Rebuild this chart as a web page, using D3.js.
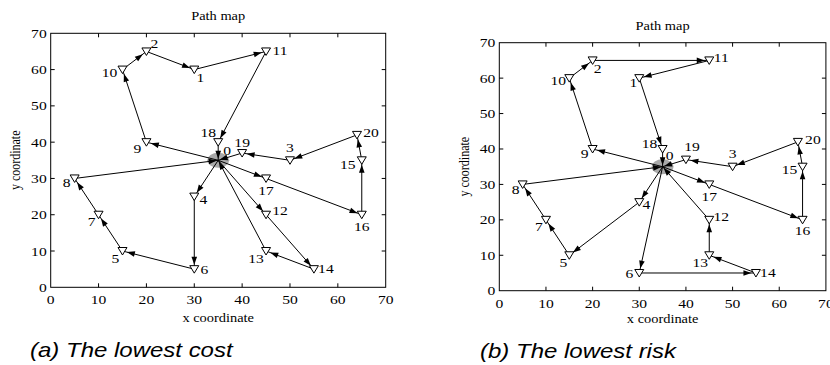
<!DOCTYPE html>
<html>
<head>
<meta charset="utf-8">
<script src="https://cdn.jsdelivr.net/npm/d3@7/dist/d3.min.js"></script>
<style>
  body { margin: 0; background: #fff; }
  svg { display: block; }
</style>
</head>
<body>
<svg id="chart" width="830" height="365"></svg>
<script>
// customer nodes (0 = depot)
const nodeIds = [0, 1, 2, 3, 4, 5, 6, 7, 8, 9, 10, 11, 12, 13, 14, 15, 16, 17, 18, 19, 20];
const nodeX = [35, 30, 20, 50, 30, 15, 30, 10, 5, 20, 15, 45, 45, 45, 55, 65, 65, 45, 35, 40, 64];
const nodeY = [35, 60, 65, 35, 25, 10, 5, 20, 30, 40, 60, 65, 20, 10, 5, 35, 20, 30, 40, 37, 42];

// vehicle routes
const routesCost = [
  [0, 9, 10, 2, 1, 11, 18, 0],
  [0, 4, 6, 5, 7, 8, 0],
  [0, 17, 16, 15, 20, 3, 19, 0],
  [0, 12, 14, 13, 0]
];
const routesRisk = [
  [0, 9, 10, 2, 11, 1, 18, 0],
  [0, 4, 5, 7, 8, 0],
  [0, 6, 14, 13, 12, 0],
  [0, 17, 16, 15, 20, 3, 19, 0]
];

const xTicks = [0, 10, 20, 30, 40, 50, 60, 70];
const yTicks = [0, 10, 20, 30, 40, 50, 60, 70];
const titleText = 'Path map';
const xLabelText = 'x coordinate';
const yLabelText = 'y coordinate';
const captions = ['(a) The lowest cost', '(b) The lowest risk'];

// label placement around each node (px), per panel
const labelOffA = {
  0: [9, -10], 1: [6, 8], 2: [8, -8], 3: [0, -13], 4: [9, 3], 5: [-7, 7], 6: [10, 0],
  7: [-7, 7], 8: [-8, 4], 9: [-9, 6], 10: [-13, 3], 11: [14, -1], 12: [14, -4],
  13: [-10, 7], 14: [12, -1], 15: [-14, 4], 16: [0, 12], 17: [0, 12], 18: [-10, -10],
  19: [0, -11], 20: [14, -2]
};
const labelOffB = {
  0: [7, -11], 1: [-6, 4], 2: [5, 8], 3: [0, -13], 4: [7, 2], 5: [-6, 7], 6: [-10, 1],
  7: [-7, 7], 8: [-7, 5], 9: [-8, 5], 10: [-11, 2], 11: [12, -3], 12: [12, -3],
  13: [-9, 7], 14: [12, 0], 15: [-13, 3], 16: [0, 11], 17: [0, 12], 18: [-13, -5],
  19: [6, -13], 20: [15, -2]
};

const SX = 1.2; // the figure is stretched horizontally
const serif = '"Liberation Serif", "Times New Roman", serif';

const svg = d3.select('#chart');

function txt(g, x, y, s, size, anchor, extra) {
  return g.append('text')
    .attr('transform', `translate(${x},${y}) scale(${SX},1)` + (extra || ''))
    .attr('text-anchor', anchor)
    .style('font-family', serif)
    .style('font-size', size + 'px')
    .style('fill', '#000')
    .text(s);
}

function drawPanel(p) {
  const x = d3.scaleLinear().domain([0, 70]).range([p.left, p.right]);
  const y = d3.scaleLinear().domain([0, 70]).range([p.bottom, p.top]);
  const g = svg.append('g');

  // frame
  g.append('rect')
    .attr('x', x(0)).attr('y', y(70))
    .attr('width', x(70) - x(0)).attr('height', y(0) - y(70))
    .attr('fill', 'none').attr('stroke', '#000').attr('stroke-width', 1);

  // inner ticks on all sides
  const tl = 4;
  xTicks.slice(1, -1).forEach(t => {
    g.append('line').attr('x1', x(t)).attr('x2', x(t)).attr('y1', y(0)).attr('y2', y(0) - tl).attr('stroke', '#000');
    g.append('line').attr('x1', x(t)).attr('x2', x(t)).attr('y1', y(70)).attr('y2', y(70) + tl).attr('stroke', '#000');
  });
  yTicks.slice(1, -1).forEach(t => {
    g.append('line').attr('x1', x(0)).attr('x2', x(0) + tl).attr('y1', y(t)).attr('y2', y(t)).attr('stroke', '#000');
    g.append('line').attr('x1', x(70)).attr('x2', x(70) - tl).attr('y1', y(t)).attr('y2', y(t)).attr('stroke', '#000');
  });

  // tick labels
  xTicks.forEach(t => txt(g, x(t), y(0) + 17, t, 13, 'middle'));
  yTicks.forEach(t => txt(g, x(0) - 4, y(t) + 4.5, t, 13, 'end'));

  // titles
  txt(g, (x(0) + x(70)) / 2, p.titleY, titleText, 12, 'middle');
  txt(g, (x(0) + x(70)) / 2, p.xLabelY, xLabelText, 12, 'middle');
  g.append('text')
    .attr('transform', `translate(${p.yLabelX},${(y(0) + y(70)) / 2}) rotate(-90) scale(1,${SX})`)
    .attr('text-anchor', 'middle')
    .style('font-family', serif)
    .style('font-size', '12px')
    .text(yLabelText);

  const px = i => x(nodeX[i]);
  const py = i => y(nodeY[i]);

  // depot
  g.append('ellipse')
    .attr('cx', px(0)).attr('cy', py(0))
    .attr('rx', 11).attr('ry', 7.5)
    .attr('fill', '#a9a9a9');

  // route edges
  const edges = [];
  p.routes.forEach(r => {
    for (let k = 0; k < r.length - 1; k++) edges.push([r[k], r[k + 1]]);
  });
  g.selectAll('line.edge').data(edges).enter().append('line')
    .attr('class', 'edge')
    .attr('x1', d => px(d[0])).attr('y1', d => py(d[0]))
    .attr('x2', d => px(d[1])).attr('y2', d => py(d[1]))
    .attr('stroke', '#000').attr('stroke-width', 1);

  // markers
  g.selectAll('path.node').data(nodeIds.slice(1)).enter().append('path')
    .attr('class', 'node')
    .attr('d', 'M-4.5,-3.5L4.5,-3.5L0,4Z')
    .attr('transform', d => `translate(${px(d)},${py(d)})`)
    .attr('fill', '#fff').attr('stroke', '#000').attr('stroke-width', 1);

  // arrow heads
  const aLen = 8, aW = 2.8;
  g.selectAll('path.arrow').data(edges).enter().append('path')
    .attr('class', 'arrow')
    .attr('d', d => {
      const x1 = px(d[0]), y1 = py(d[0]), x2 = px(d[1]), y2 = py(d[1]);
      const L = Math.hypot(x2 - x1, y2 - y1);
      const ux = (x2 - x1) / L, uy = (y2 - y1) / L;
      const off = d[1] === 0 ? 1.5 : 4.5;
      const tx = x2 - ux * off, ty = y2 - uy * off;
      const bx = tx - ux * aLen, by = ty - uy * aLen;
      return `M${tx},${ty}L${bx - uy * aW},${by + ux * aW}L${bx + uy * aW},${by - ux * aW}Z`;
    })
    .attr('fill', '#000');

  // node labels
  nodeIds.forEach(i => {
    const o = p.labelOff[i];
    txt(g, px(i) + o[0], py(i) + o[1] + 4.5, i, 13, 'middle');
  });

  // caption
  g.append('text')
    .attr('transform', `translate(${p.capX},${p.capY}) scale(${SX},1)`)
    .style('font-family', '"Liberation Sans", Arial, sans-serif')
    .style('font-style', 'italic')
    .style('font-size', '20px')
    .text(p.caption);
}

drawPanel({
  left: 50.7, right: 385.7, top: 33.3, bottom: 287.3,
  titleY: 20, xLabelY: 322, yLabelX: 20,
  routes: routesCost, labelOff: labelOffA,
  caption: captions[0], capX: 30, capY: 357
});
drawPanel({
  left: 499.3, right: 825.9, top: 42.7, bottom: 290.7,
  titleY: 30, xLabelY: 323, yLabelX: 469,
  routes: routesRisk, labelOff: labelOffB,
  caption: captions[1], capX: 480, capY: 358
});
</script>
</body>
</html>
